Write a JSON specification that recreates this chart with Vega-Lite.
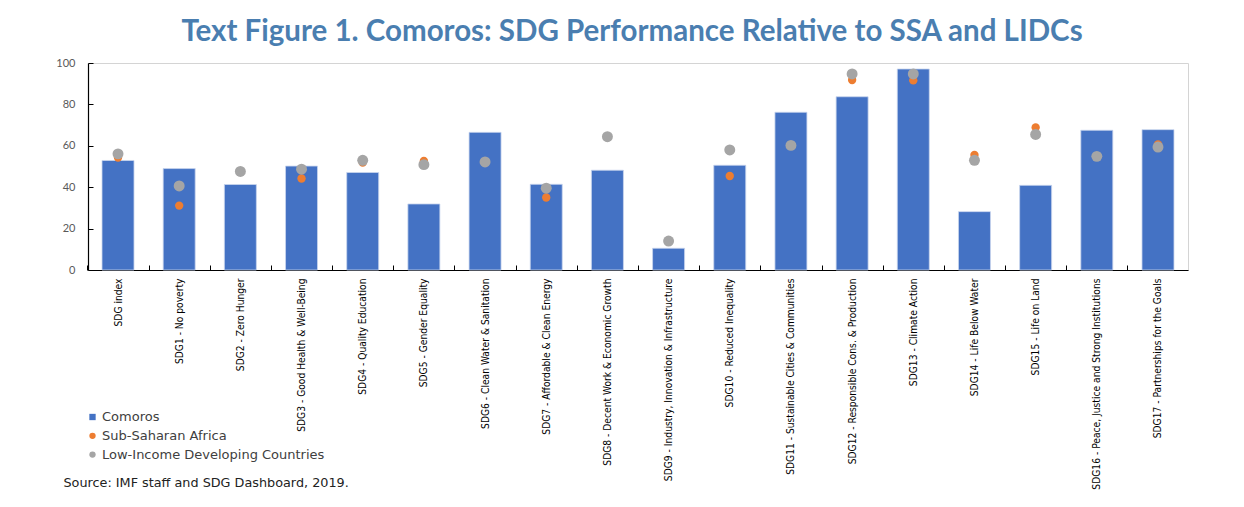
{
  "$schema": "https://vega.github.io/schema/vega-lite/v6.json",
  "width": 1100,
  "height": 207,
  "autosize": {"type": "none"},
  "padding": {"left": 88, "top": 63, "right": 56, "bottom": 237},
  "background": "white",
  "title": {
    "text": "Text Figure 1. Comoros: SDG Performance Relative to SSA and LIDCs",
    "font": "Lato",
    "fontSize": 29.5,
    "fontWeight": "bold",
    "color": "#4a7eb0",
    "anchor": "middle",
    "baseline": "alphabetic",
    "offset": 21,
    "dx": -6,
    "dy": 34
  },
  "data": {
    "values": [
      {"goal": "SDG index", "Comoros": 52.9, "Sub-Saharan Africa": 54.3, "Low-Income Developing Countries": 56.1},
      {"goal": "SDG1 - No poverty", "Comoros": 49.0, "Sub-Saharan Africa": 31.1, "Low-Income Developing Countries": 40.6},
      {"goal": "SDG2 - Zero Hunger", "Comoros": 41.3, "Sub-Saharan Africa": 47.4, "Low-Income Developing Countries": 47.6},
      {"goal": "SDG3 - Good Health & Well-Being", "Comoros": 50.2, "Sub-Saharan Africa": 44.2, "Low-Income Developing Countries": 48.7},
      {"goal": "SDG4 - Quality Education", "Comoros": 47.1, "Sub-Saharan Africa": 51.9, "Low-Income Developing Countries": 53.0},
      {"goal": "SDG5 - Gender Equality", "Comoros": 31.9, "Sub-Saharan Africa": 52.7, "Low-Income Developing Countries": 50.9},
      {"goal": "SDG6 - Clean Water & Sanitation", "Comoros": 66.5, "Sub-Saharan Africa": 52.0, "Low-Income Developing Countries": 52.2},
      {"goal": "SDG7 - Affordable & Clean Energy", "Comoros": 41.4, "Sub-Saharan Africa": 35.0, "Low-Income Developing Countries": 39.5},
      {"goal": "SDG8 - Decent Work & Economic Growth", "Comoros": 48.2, "Sub-Saharan Africa": 64.3, "Low-Income Developing Countries": 64.4},
      {"goal": "SDG9 - Industry, Innovation & Infrastructure", "Comoros": 10.5, "Sub-Saharan Africa": 13.9, "Low-Income Developing Countries": 14.0},
      {"goal": "SDG10 - Reduced Inequality", "Comoros": 50.6, "Sub-Saharan Africa": 45.4, "Low-Income Developing Countries": 58.0},
      {"goal": "SDG11 - Sustainable Cities & Communities", "Comoros": 76.2, "Sub-Saharan Africa": 60.1, "Low-Income Developing Countries": 60.2},
      {"goal": "SDG12 - Responsible Cons. & Production", "Comoros": 83.7, "Sub-Saharan Africa": 91.8, "Low-Income Developing Countries": 94.7},
      {"goal": "SDG13 - Climate Action", "Comoros": 97.1, "Sub-Saharan Africa": 91.6, "Low-Income Developing Countries": 94.7},
      {"goal": "SDG14 - Life Below Water", "Comoros": 28.2, "Sub-Saharan Africa": 55.6, "Low-Income Developing Countries": 53.0},
      {"goal": "SDG15 - Life on Land", "Comoros": 40.9, "Sub-Saharan Africa": 68.9, "Low-Income Developing Countries": 65.5},
      {"goal": "SDG16 - Peace, Justice and Strong Institutions", "Comoros": 67.5, "Sub-Saharan Africa": 54.8, "Low-Income Developing Countries": 54.9},
      {"goal": "SDG17 - Partnerships for the Goals", "Comoros": 67.8, "Sub-Saharan Africa": 60.7, "Low-Income Developing Countries": 59.4}
    ]
  },
  "transform": [
    {"fold": ["Comoros", "Sub-Saharan Africa", "Low-Income Developing Countries"], "as": ["series", "value"]}
  ],
  "encoding": {
    "x": {
      "field": "goal",
      "type": "nominal",
      "sort": null,
      "scale": {"paddingInner": 0.477, "paddingOuter": 0.229},
      "axis": {
        "title": "Source: IMF staff and SDG Dashboard, 2019.",
        "titleX": -25,
        "titleY": 212,
        "titleAlign": "left",
        "titleAnchor": "start",
        "titleBaseline": "middle",
        "titleAngle": 0,
        "titleFont": "DejaVu Sans",
        "titleFontSize": 12.8,
        "titleFontWeight": "normal",
        "titleColor": "#222222",
        "labelAngle": -90,
        "labelFont": "'DejaVu Sans Condensed', 'Liberation Sans', sans-serif",
        "labelFontSize": 10.2,
        "labelColor": "#000000",
        "labelPadding": 13,
        "labelLimit": 300,
        "tickOffset": -30.6,
        "labelOffset": 30.6,
        "tickSize": -5,
        "tickColor": "#000000",
        "domainColor": "#000000",
        "domainWidth": 1.2
      }
    },
    "y": {
      "field": "value",
      "type": "quantitative",
      "scale": {"domain": [0, 100], "nice": false},
      "axis": {
        "title": null,
        "values": [0, 20, 40, 60, 80, 100],
        "grid": false,
        "labelFont": "Lato",
        "labelFontSize": 11,
        "labelColor": "#595959",
        "labelPadding": 18,
        "tickSize": -5,
        "tickColor": "#000000",
        "domainColor": "#000000",
        "domainWidth": 1.2
      }
    },
    "color": {
      "field": "series",
      "type": "nominal",
      "scale": {
        "domain": ["Comoros", "Sub-Saharan Africa", "Low-Income Developing Countries"],
        "range": ["#4472C4", "#ED7D31", "#A5A5A5"]
      },
      "legend": {"title": null}
    }
  },
  "layer": [
    {
      "transform": [{"filter": "datum.series === 'Comoros'"}],
      "mark": {"type": "bar", "stroke": "#c9d6ee", "strokeWidth": 0.8}
    },
    {
      "transform": [{"filter": "datum.series === 'Sub-Saharan Africa'"}],
      "mark": {"type": "point", "filled": true, "opacity": 1, "size": 70},
      "encoding": {
        "shape": {
          "field": "series",
          "type": "nominal",
          "scale": {
            "domain": ["Comoros", "Sub-Saharan Africa", "Low-Income Developing Countries"],
            "range": ["square", "circle", "circle"]
          },
          "legend": {"title": null}
        }
      }
    },
    {
      "transform": [{"filter": "datum.series === 'Low-Income Developing Countries'"}],
      "mark": {"type": "point", "filled": true, "opacity": 1, "size": 120},
      "encoding": {
        "shape": {
          "field": "series",
          "type": "nominal",
          "scale": {
            "domain": ["Comoros", "Sub-Saharan Africa", "Low-Income Developing Countries"],
            "range": ["square", "circle", "circle"]
          },
          "legend": {"title": null}
        }
      }
    }
  ],
  "config": {
    "view": {"stroke": "#d4d4d4", "strokeWidth": 1},
    "legend": {
      "orient": "none",
      "legendX": -2,
      "legendY": 347.5,
      "padding": 0,
      "rowPadding": 4.8,
      "symbolSize": 40,
      "symbolStrokeWidth": 0,
      "labelFont": "DejaVu Sans",
      "labelFontSize": 13,
      "labelColor": "#404040",
      "labelOffset": 3,
      "labelLimit": 400
    }
  }
}
